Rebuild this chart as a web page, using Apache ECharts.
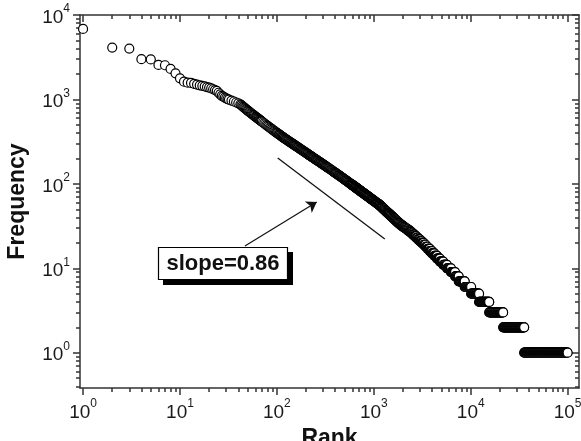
<!DOCTYPE html>
<html><head><meta charset="utf-8">
<script src="https://cdn.jsdelivr.net/npm/echarts@6/dist/echarts.min.js"></script>
<style>html,body{margin:0;padding:0;background:#fff}#c{width:581px;height:441px}</style>
</head><body><div id="c"></div>
<script>
// ---- data (rank, frequency) ----
const ranks = [1,2,3,4,5,6,7,8,9,10,11,12,13,14,15,16,17,18,19,20,21,22,23,24,25,26,27,28,29,30,31,32,
  34,36,38,40,42,43,44,45,46,47,48,49,50,51,52,53,54,55,56,57,58,59,60,61,62,63,64,65,66,67,68,69,70,
  72,74,76,78,80,82,84,86,88,90,92,94,96,98,
  100,101,103,105,106,108,109,111,112,114,115,117,118,120,121,123,124,126,128,130,132,134,136,138,140,142,144,146,148,150,
  152,154,156,158,160,162,165,167,170,172,175,177,180,182,185,187,190,193,196,199,202,205,208,211,214,217,220,223,226,229,
  232,235,239,242,246,249,253,256,260,263,267,271,275,279,283,287,291,295,299,303,308,312,317,321,326,330,335,340,345,350,
  355,360,365,370,375,380,386,391,397,402,408,413,419,425,431,437,443,449,455,461,468,474,481,487,494,501,508,515,522,529,
  536,543,551,558,566,570];
const freqs = [6840,4110,4000,3000,2980,2560,2540,2300,2040,1780,1625,1580,1570,1530,1500,1470,1450,1430,1400,1380,1350,1320,1290,1260,1200,1150,1100,1080,1050,1030,1010,995,
  970,945,920,900,875,855,835,817,800,783,767,751,738,725,712,700,689,677,666,656,646,636,627,617,609,600,591,583,575,568,561,553,546,
  533,520,508,497,486,475,465,456,447,438,430,423,415,408,
  402,398,392,386,383,377,375,369,366,361,358,353,351,346,344,340,337,333,329,325,321,317,314,310,307,303,300,297,294,291,
  288,285,282,279,277,274,270,268,264,262,258,256,252,250,247,245,242,239,236,234,231,228,226,223,221,218,216,214,212,210,
  207,205,203,201,198,196,194,192,190,188,186,184,182,180,178,176,174,172,170,169,167,165,163,161,159,158,156,154,153,151,
  149,147,146,144,143,141,139,138,136,135,133,132,130,129,127,126,125,123,122,121,119,118,117,115,114,113,111,110,109,108,
  107,105,104,103,102,101];
// tail: integer frequency plateaus and the first rank holding each frequency
const levelFreq = [100,99,98,97,96,95,94,93,92,91,90,89,88,87,86,85,84,83,82,81,80,79,78,77,76,75,74,73,72,71,
  70,69,68,67,66,65,64,63,62,61,60,59,58,57,56,55,54,53,52,51,
  50,49,48,47,46,45,44,43,42,41,40,39,38,37,36,35,34,33,32,31,30,29,28,27,26,25,24,23,22,21,
  20,19,18,17,16,15,14,13,12,11,10,9,8,7,6,5,4,3,2,1];
const levelStart = [575,582,589,596,604,611,619,627,635,643,651,660,669,678,687,697,707,717,727,737,748,759,771,783,795,807,820,834,847,861,
  876,891,906,922,939,956,973,991,1010,1030,1050,1071,1093,1115,1139,1160,1179,1200,1221,1243,
  1266,1290,1314,1340,1366,1394,1423,1454,1486,1519,1554,1590,1628,1669,1711,1756,1803,1854,1923,1997,2076,2160,2255,2352,2440,2530,2630,2735,2850,2980,
  3120,3270,3420,3590,3775,3980,4220,4490,4810,5210,5690,6260,6900,7520,8670,10100,12200,15500,21600,35600];
const lastRank = 100000;

const xMajorTicks = [1,10,100,1000,10000,100000];
const xMinorTicks = [2,3,4,5,6,7,8,9,20,30,40,50,60,70,80,90,200,300,400,500,600,700,800,900,
  2000,3000,4000,5000,6000,7000,8000,9000,20000,30000,40000,50000,60000,70000,80000,90000];
const yMajorTicks = [1,10,100,1000,10000];
const yMinorTicks = [0.4,0.5,0.6,0.7,0.8,0.9,2,3,4,5,6,7,8,9,20,30,40,50,60,70,80,90,200,300,400,500,600,700,800,900,
  2000,3000,4000,5000,6000,7000,8000,9000];

const slopeLine = [[102,203],[1298,22.2]];
const arrowLine = [[46.8,18.4],[258,61]];
const slopeText = 'slope=0.86';
const xTitle = 'Rank', yTitle = 'Frequency';

// ---- build point list ----
const pts = ranks.map((r,i)=>[r, freqs[i]]);
for (let i = 0; i < levelFreq.length; i++) {
  const a = levelStart[i];
  const b = i + 1 < levelStart.length ? levelStart[i+1] - 1 : lastRank;
  let r = a;
  while (r < b) { pts.push([r, levelFreq[i]]); r = Math.max(r + 1, Math.round(r * 1.01)); }
  pts.push([b, levelFreq[i]]);
}

const FF = "'Liberation Sans', Arial, sans-serif";
const rich = {
  b: {fontSize: 19, lineHeight: 24, verticalAlign: 'bottom', fontFamily: FF, color: '#1a1a1a'},
  s: {fontSize: 12, lineHeight: 12, verticalAlign: 'top', fontFamily: FF, color: '#1a1a1a'}
};
const fmt = v => '{b|10}{s|' + Math.round(Math.log10(v)) + '}';
const lineSt = {color: '#333', width: 1.5};
const X = {min: 0.93, max: 131000}, Y = {min: 0.382, max: 10000};

function ax(o) {
  return Object.assign({type: 'log', logBase: 10, splitLine: {show: false}, minorTick: {show: false}}, o);
}
const gridRect = {left: 80, right: 2, top: 15, bottom: 53, containLabel: false, outerBoundsMode: 'none'};

const chart = echarts.init(document.getElementById('c'), null, {renderer: 'canvas'});
chart.setOption({
  animation: false,
  backgroundColor: '#fff',
  grid: [Object.assign({}, gridRect), Object.assign({}, gridRect)],
  xAxis: [
    ax({gridIndex: 0, position: 'bottom', min: X.min, max: X.max,
      axisLine: {show: true, lineStyle: lineSt},
      axisTick: {show: true, inside: false, length: 7, customValues: xMajorTicks, lineStyle: lineSt},
      axisLabel: {show: true, customValues: xMajorTicks, formatter: fmt, rich: rich, margin: 10},
      name: xTitle, nameLocation: 'middle', nameGap: 38,
      nameTextStyle: {fontSize: 23, fontWeight: 'bold', fontFamily: FF, color: '#111'}}),
    ax({gridIndex: 0, position: 'top', min: X.min, max: X.max,
      axisLine: {show: true, lineStyle: lineSt},
      axisTick: {show: true, inside: true, length: 7, customValues: xMajorTicks, lineStyle: lineSt},
      axisLabel: {show: false}}),
    ax({gridIndex: 1, position: 'bottom', min: X.min, max: X.max,
      axisLine: {show: false},
      axisTick: {show: true, inside: false, length: 4, customValues: xMinorTicks, lineStyle: lineSt},
      axisLabel: {show: false}}),
    ax({gridIndex: 1, position: 'top', min: X.min, max: X.max,
      axisLine: {show: false},
      axisTick: {show: true, inside: true, length: 4, customValues: xMinorTicks, lineStyle: lineSt},
      axisLabel: {show: false}})
  ],
  yAxis: [
    ax({gridIndex: 0, position: 'left', min: Y.min, max: Y.max,
      axisLine: {show: true, lineStyle: lineSt},
      axisTick: {show: true, inside: false, length: 7, customValues: yMajorTicks, lineStyle: lineSt},
      axisLabel: {show: true, customValues: yMajorTicks, formatter: fmt, rich: rich, margin: 10},
      name: yTitle, nameLocation: 'middle', nameGap: 51,
      nameTextStyle: {fontSize: 23, fontWeight: 'bold', fontFamily: FF, color: '#111'}}),
    ax({gridIndex: 0, position: 'right', min: Y.min, max: Y.max,
      axisLine: {show: true, lineStyle: lineSt},
      axisTick: {show: true, inside: true, length: 7, customValues: yMajorTicks, lineStyle: lineSt},
      axisLabel: {show: false}}),
    ax({gridIndex: 1, position: 'left', min: Y.min, max: Y.max,
      axisLine: {show: false},
      axisTick: {show: true, inside: false, length: 4, customValues: yMinorTicks, lineStyle: lineSt},
      axisLabel: {show: false}}),
    ax({gridIndex: 1, position: 'right', min: Y.min, max: Y.max,
      axisLine: {show: false},
      axisTick: {show: true, inside: true, length: 4, customValues: yMinorTicks, lineStyle: lineSt},
      axisLabel: {show: false}})
  ],
  series: [
    {type: 'scatter', xAxisIndex: 0, yAxisIndex: 0, data: pts, symbol: 'circle', symbolSize: 9,
      itemStyle: {color: '#fff', borderColor: '#000', borderWidth: 1.2, opacity: 1}, silent: true},
    {type: 'lines', coordinateSystem: 'cartesian2d', xAxisIndex: 0, yAxisIndex: 0, silent: true,
      data: [{coords: slopeLine}], symbol: ['none', 'none'],
      lineStyle: {color: '#111', width: 1.3, opacity: 1}},
    {type: 'lines', coordinateSystem: 'cartesian2d', xAxisIndex: 0, yAxisIndex: 0, silent: true,
      data: [{coords: arrowLine}], symbol: ['none', 'arrow'], symbolSize: 10,
      lineStyle: {color: '#111', width: 1.2, opacity: 1}}
  ],
  graphic: [
    {type: 'rect', shape: {x: 163, y: 252, width: 130, height: 33}, style: {fill: '#000'}, z: 100},
    {type: 'rect', shape: {x: 158.5, y: 247.5, width: 129, height: 32}, style: {fill: '#fff', stroke: '#000', lineWidth: 1.2}, z: 101},
    {type: 'text', x: 223, y: 264, z: 102,
      style: {text: slopeText, fontSize: 22, fontWeight: 'bold', fontFamily: FF, fill: '#111',
        align: 'center', verticalAlign: 'middle', textAlign: 'center', textVerticalAlign: 'middle'}}
  ]
});
</script></body></html>
